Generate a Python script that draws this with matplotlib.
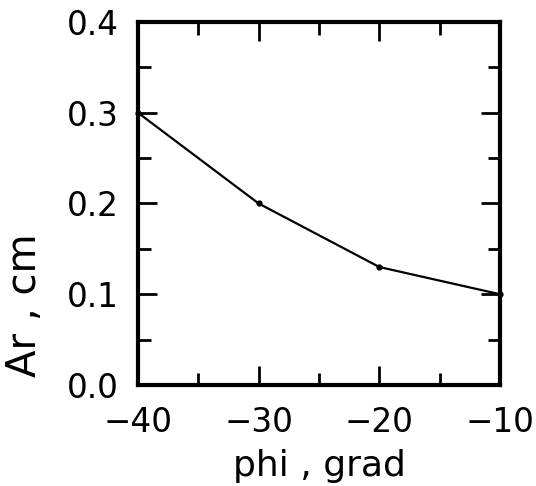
import matplotlib
matplotlib.use("Agg")
import matplotlib.pyplot as plt
from matplotlib.ticker import MultipleLocator

phi = [-40, -30, -20, -10]
ar = [0.30, 0.20, 0.13, 0.10]
xticks = [-40, -30, -20, -10]
yticks = [0.0, 0.1, 0.2, 0.3, 0.4]

plt.rcParams['font.family'] = ['DejaVu Sans']
fig = plt.figure(figsize=(5.36, 4.86), dpi=100)
ax = fig.add_axes([138/536, 1-385/486, (500-138)/536, (385-22)/486])
ax.plot(phi, ar, color='black', lw=1.6, marker='o', ms=3.5, clip_on=False)
ax.set_xlim(-40, -10)
ax.set_ylim(0, 0.4)
ax.set_xticks(xticks)
ax.set_xticklabels(['\u221240', '\u221230', '\u221220', '\u221210'])
ax.set_yticks(yticks)
ax.set_yticklabels(['0.0', '0.1', '0.2', '0.3', '0.4'])
ax.xaxis.set_minor_locator(MultipleLocator(5))
ax.yaxis.set_minor_locator(MultipleLocator(0.05))
ax.tick_params(which='both', direction='in', top=True, right=True, width=2, labelsize=23.5)
ax.tick_params(which='major', length=14)
ax.tick_params(which='minor', length=9)
ax.tick_params(axis='x', pad=15)
ax.tick_params(axis='y', pad=14)
for s in ax.spines.values():
    s.set_linewidth(3)
ax.set_xlabel('phi , grad', fontsize=26, labelpad=7)
fig.text(25/536, 1-305/486, 'Ar , cm', fontsize=29, rotation=90, ha='center', va='center')
fig.savefig('out.png', dpi=100)
